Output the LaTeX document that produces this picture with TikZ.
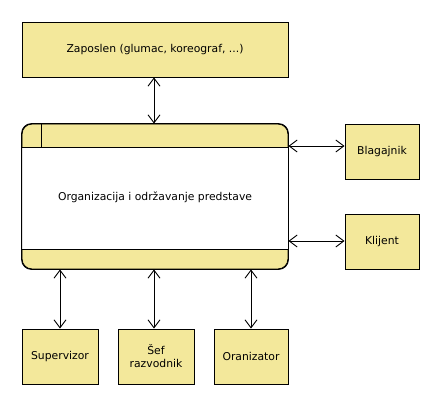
\documentclass[tikz,border=0pt]{standalone}
\usepackage{fontspec}
\setmainfont{DejaVu Sans}
\usepackage{xcolor}
\usepackage{tikz}
\usetikzlibrary{arrows.meta}
\definecolor{boxfill}{RGB}{243,232,155}
\tikzset{
    box/.style={draw, line width=0.9pt, fill=boxfill, font=\fontsize{10.8}{13}\selectfont, align=center},
    actor/.style={box, minimum width=75pt, minimum height=55pt},
    process/.style={box, rounded corners=10pt, minimum width=266pt, minimum height=145pt},
    link/.style={<->, line width=0.9pt, >={Straight Barb[length=8pt,width=12pt]}}
}
\begin{document}
\begin{tikzpicture}[x=1pt, y=-1pt]
    \useasboundingbox (0,0) rectangle (438,404);
    % Employees on top
    \node[box, minimum width=266pt, minimum height=55pt] (zap) at (155, 49.5) {Zaposlen (glumac, koreograf, ...)};

    % Main process
    \node[process] (org) at (155, 196.5) {};
    \fill[white] ([yshift=-24pt]org.north west) rectangle ([yshift=20pt]org.south east);
    \draw[line width=0.9pt] ([yshift=-24pt]org.north west) -- ([yshift=-24pt]org.north east);
    \draw[line width=0.9pt] ([yshift=20pt]org.south west) -- ([yshift=20pt]org.south east);
    \draw[line width=0.9pt] ([xshift=20pt]org.north west) -- ([xshift=20pt, yshift=-24pt]org.north west);
    \draw[line width=0.9pt, rounded corners=10pt] (org.north west) rectangle (org.south east);
    \node[font=\fontsize{10.8}{13}\selectfont] (orgtext) at ([yshift=-1pt]org.center) {Organizacija i održavanje predstave};

    % Actors on the right
    \node[actor, minimum width=74pt] (blag) at (382, 151.5) {Blagajnik};
    \node[actor, minimum width=74pt] (klij) at (382, 241.5) {Klijent};

    % Actors below
    \node[actor, minimum width=76pt] (sup) at (60, 356.5) {Supervizor};
    \node[actor, minimum width=76pt] (sef) at (156, 356.5) {Šef\\razvodnik};
    \node[actor, minimum width=74pt] (oran) at (251, 356.5) {Oranizator};

    % Connections
    \draw[link] ([xshift=-1pt]zap.south) -- ([xshift=-1pt]org.north);
    \coordinate (bl) at ([yshift=5.5pt]blag.west);
    \coordinate (kl) at ([yshift=0.5pt]klij.west);
    \draw[link] (org.east |- bl) -- (bl);
    \draw[link] (org.east |- kl) -- (kl);
    \draw[link] (org.south -| sup) -- (sup.north);
    \draw[link] ([xshift=-2pt]org.south -| sef) -- ([xshift=-2pt]sef.north);
    \draw[link] (org.south -| oran) -- (oran.north);
\end{tikzpicture}
\end{document}
